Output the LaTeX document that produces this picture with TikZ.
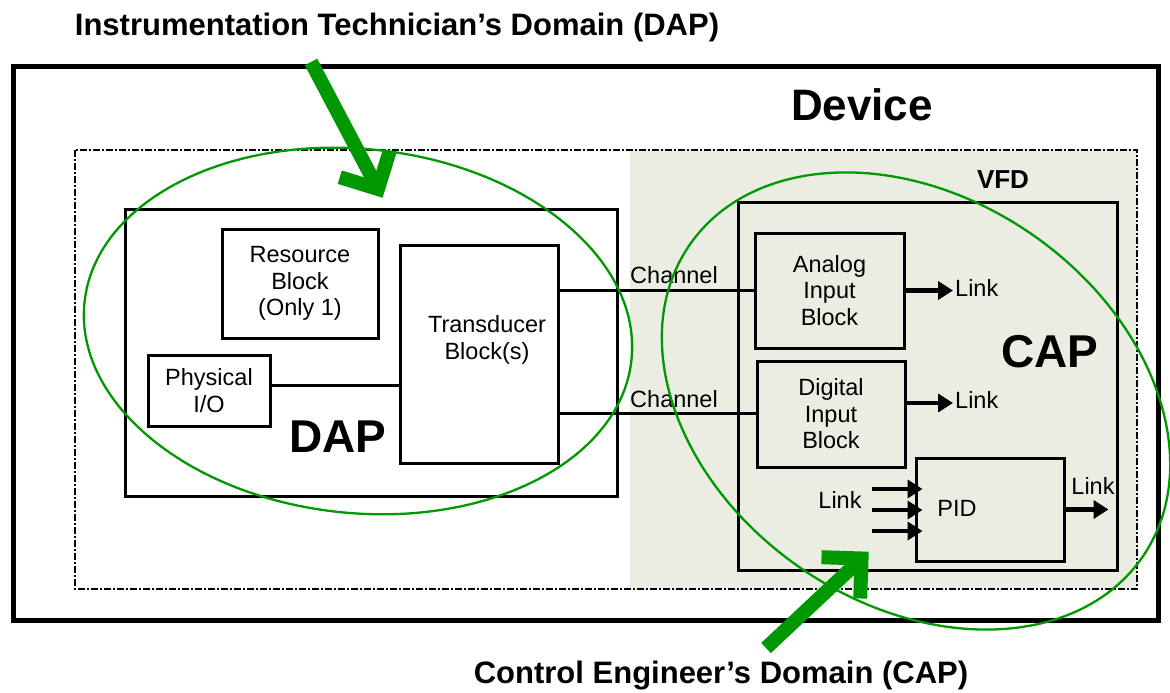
\documentclass[tikz,border=0pt]{standalone}
\usepackage{fontspec}
\setmainfont{Liberation Sans}
\usepackage{tikz}
\usetikzlibrary{arrows.meta,calc}
\definecolor{domgreen}{RGB}{0,152,0}
\definecolor{capfill}{RGB}{235,237,227}
\newcommand{\blkfont}{\fontsize{23.5pt}{26.5pt}\selectfont}
\newcommand{\ttlfont}{\fontsize{31pt}{34pt}\selectfont\bfseries}
\newcommand{\devfont}{\fontsize{44pt}{48pt}\selectfont\bfseries}
\newcommand{\vfdfont}{\fontsize{26pt}{30pt}\selectfont\bfseries}
\newcommand{\apfont}{\fontsize{46pt}{50pt}\selectfont\bfseries}

\begin{document}
\begin{tikzpicture}[x=1pt, y=-1pt, every node/.style={font=\blkfont, inner sep=2pt, align=center},
	blk/.style={draw, line width=3pt, inner sep=0pt},
	chan/.style={line width=3pt},
	lnk/.style={line width=4.5pt, -{Triangle[length=15pt,width=18pt]}},
	dom/.style={draw=domgreen, line width=2.3pt},
	fat/.style={draw=domgreen, line width=14pt, line join=miter}]
	\useasboundingbox (0,0) rectangle (1170,693);
	\fill[capfill] (630,150) rectangle (1137,589);
	\draw[line width=1.5pt, dash pattern=on 7pt off 2pt on 2pt off 2pt] (75,150) rectangle (1137,589);
	\draw[line width=5pt] (13,67) rectangle (1158,620);
	\node[font=\ttlfont] (ttltech) at (397,27) {Instrumentation Technician’s Domain (DAP)};
	\node[font=\ttlfont] (ttlctrl) at (721,676) {Control Engineer’s Domain (CAP)};
	\node[font=\devfont] (dev) at (862,105) {Device};
	\node[font=\vfdfont] (vfd) at (1003,180) {VFD};
	% DAP side
	\node[blk, minimum width=492pt, minimum height=287pt] (dapbox) at (371,352.5) {};
	\node[blk, minimum width=156pt, minimum height=109pt] (rb) at (300,283.5) {Resource\\Block\\(Only 1)};
	\node[blk, minimum width=122pt, minimum height=71pt] (io) at (209,390.5) {Physical\\I/O};
	\node[blk, minimum width=158pt, minimum height=218pt] (tb) at (479,354) {};
	\node (tbtxt) at (487,340) {Transducer\\Block(s)};
	\node[font=\apfont] (dap) at (338,437) {DAP};
	\draw[chan] ([yshift=5pt]io.east) -- ([yshift=5pt]io.east -| tb.west);
	% CAP side
	\node[blk, minimum width=379pt, minimum height=368pt] (vfdbox) at (927.5,386) {};
	\node[blk, minimum width=149pt, minimum height=115pt] (ai) at (829.5,290.5) {Analog\\Input\\Block};
	\node[blk, minimum width=148pt, minimum height=106pt] (di) at (831,414) {Digital\\Input\\Block};
	\node[blk, minimum width=148pt, minimum height=103pt] (pid) at (990,509.5) {};
	\node (pidtxt) at (957,508) {PID};
	\node[font=\apfont] (cap) at (1050,352) {CAP};
	\node (chana) at (674,275) {Channel};
	\node (chand) at (674,399) {Channel};
	\draw[chan] (ai.west -| tb.east) -- (ai.west);
	\draw[chan] ([yshift=1pt]di.west -| tb.east) -- ([yshift=1pt]di.west);
	\node[anchor=west] (lnka) at (953,288) {Link};
	\node[anchor=west] (lnkd) at (953,400) {Link};
	\node (lnkp) at (840,500) {Link};
	\node[anchor=south] (lnko) at (1093,497) {Link};
	\draw[lnk] (ai.east) -- (ai.east -| lnka.west);
	\draw[lnk] ([yshift=-3pt]di.east |- lnkd.west) -- ([yshift=-3pt]lnkd.west);
	\foreach \dy in {-11,10,31}
		\draw[lnk] ([shift={(8,\dy)}]lnkp.east) -- ([shift={(8,\dy)}]lnkp.east -| pid.west);
	\coordinate (pout) at ($(pid.east)+(43,0)$);
	\draw[lnk] (pid.east) -- (pout);
	% domains
	\coordinate (dapc) at (358,331);
	\coordinate (capc) at (916,401);
	\draw[dom, rotate around={-6:(dapc)}] (dapc) ellipse [x radius=275, y radius=182];
	\draw[dom, rotate around={-34.5:(capc)}] (capc) ellipse [x radius=275, y radius=203];
	\coordinate (techtail) at (311,62);
	\coordinate (techtip) at (378,189);
	\coordinate (ctrltail) at (766,648);
	\coordinate (ctrltip) at (861.5,558.5);
	\draw[fat] (techtail) -- (techtip);
	\draw[fat] ($(techtip)!40pt!45:(techtail)$) -- (techtip) -- ($(techtip)!40pt!-45:(techtail)$);
	\draw[fat] (ctrltail) -- (ctrltip);
	\draw[fat] ($(ctrltip)!40pt!45:(ctrltail)$) -- (ctrltip) -- ($(ctrltip)!40pt!-45:(ctrltail)$);
\end{tikzpicture}
\end{document}
